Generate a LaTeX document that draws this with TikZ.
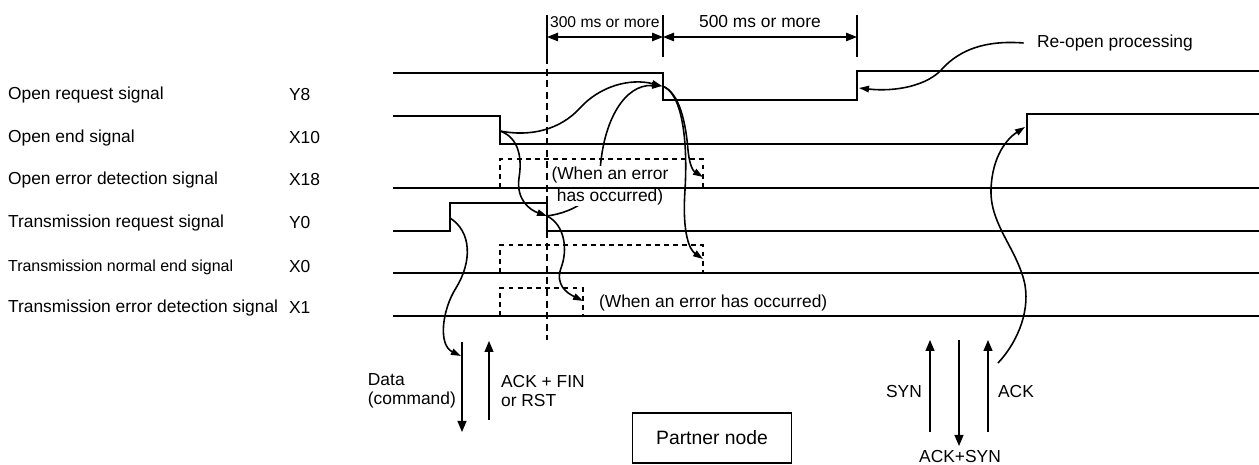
\documentclass[tikz,border=0pt]{standalone}
\usepackage{fontspec}
\setmainfont{Liberation Sans}
\usetikzlibrary{arrows.meta,positioning}

\begin{document}
\begin{tikzpicture}[
  x=0.02cm, y=-0.02cm,
  txt/.style={font=\fontsize{9.9}{11}\selectfont, inner sep=1pt},
  sig label/.style={txt, anchor=west},
  wave/.style={line width=0.7pt},
  pulse/.style={line width=0.7pt, dash pattern=on 2.8pt off 2.4pt},
  guide/.style={line width=0.7pt, dash pattern=on 4pt off 2.6pt},
  flow/.style={line width=0.9pt, -{Triangle[length=2mm,width=1.3mm]}},
  msg/.style={line width=0.7pt, -{Triangle[length=2.2mm,width=1.8mm]}},
  dim/.style={line width=0.6pt,
              {Triangle[length=2.2mm,width=1.7mm]}-{Triangle[length=2.2mm,width=1.7mm]}},
  >=Stealth
]
  \useasboundingbox (0,0) rectangle (1259,465);

  % Signal names and devices
  \foreach \txt/\dev/\y/\fs [count=\i] in {
      Open request signal/Y8/95/9.9,
      Open end signal/X10/138/9.9,
      Open error detection signal/X18/180/9.9,
      Transmission request signal/Y0/223/9.9,
      Transmission normal end signal/X0/267/9.1,
      Transmission error detection signal/X1/308/9.9} {
    \node[sig label, font=\fontsize{\fs}{11}\selectfont] (name\i) at (6,\y) {\txt};
    \node[sig label] (dev\i) at (287,\y) {\dev};
  }

  % Edge points on the waveforms
  \coordinate (y8f)  at (662,86);
  \coordinate (y8r)  at (859,88);
  \coordinate (x10f) at (500,131);
  \coordinate (x10r) at (1025,127);
  \coordinate (x18f) at (703,177);
  \coordinate (y0r)  at (450,218);
  \coordinate (y0f)  at (547,216);
  \coordinate (x0f)  at (703,259);
  \coordinate (x1f)  at (583,301);

  % Time markers
  \coordinate (t300) at (547,37);
  \coordinate (tmid) at (663,37);
  \coordinate (t500) at (857,37);
  \foreach \x in {547,663,857}
    \draw[wave] (\x,15) -- (\x,57);
  \draw[dim] (t300) -- (tmid);
  \draw[dim] (tmid) -- (t500);
  \node[txt, anchor=west, font=\fontsize{8.9}{10}\selectfont] (lbl300) at (548,22) {300 ms or more};
  \node[txt] (lbl500) at (760,22) {500 ms or more};
  \draw[guide] (547,57) -- (547,340);

  % Cause and effect
  \draw[flow] (x10f) .. controls (530,137) and (560,130) .. (580,108)
                     .. controls (600,86) and (630,78) .. (y8f);
  \draw[flow] (x10f) .. controls (520,138) and (522,160) .. (519,178)
                     .. controls (516,200) and (530,210) .. (y0f);
  \draw[flow] (y0f) .. controls (565,225) and (568,250) .. (561,268)
                    .. controls (555,285) and (567,293) .. (x1f);
  \draw[flow] (y0f) .. controls (575,212) and (597,198) .. (600,172)
                    .. controls (603,120) and (625,84) .. (y8f);
  \draw[flow] (y8f) .. controls (680,92) and (686,125) .. (688,150)
                    .. controls (690,170) and (695,172) .. (x18f);
  \draw[flow] (y8f) .. controls (682,92) and (688,140) .. (685,190)
                    .. controls (682,235) and (690,250) .. (x0f);

  \node[txt, fill=white, align=center, inner sep=0.5pt,
        font=\fontsize{9.9}{12.5}\selectfont] (err1) at (610,186) {(When an error\\has occurred)};
  \node[txt, anchor=west] (err2) at (597,303) {(When an error has occurred)};

  % Waveforms
  \draw[wave] (393,73) -- (663,73) -- (663,100) -- (857,100) -- (857,71) -- (1259,71);
  \draw[wave] (393,116) -- (500,116) -- (500,144) -- (1027,144) -- (1027,114) -- (1259,114);
  \draw[wave] (393,188) -- (1259,188);
  \draw[pulse] (500,188) -- (500,159) -- (703,159) -- (703,188);
  \draw[wave] (393,231) -- (450,231) -- (450,203) -- (547,203) -- (547,231) -- (1259,231);
  \draw[wave] (393,273) -- (1259,273);
  \draw[pulse] (500,273) -- (500,245) -- (703,245) -- (703,273);
  \draw[wave] (393,316) -- (1259,316);
  \draw[pulse] (500,316) -- (500,288) -- (583,288) -- (583,316);

  % Messages to and from the partner
  \coordinate (dataS) at (462,342);
  \coordinate (dataE) at (462,432);
  \coordinate (dataT) at (461,356);
  \coordinate (finS)  at (489,420);
  \coordinate (finE)  at (489,341);
  \draw[msg] (dataS) -- (dataE);
  \draw[msg] (finS) -- (finE);
  \draw[flow] (y0r) .. controls (472,232) and (472,262) .. (456,288)
                    .. controls (442,310) and (438,345) .. (dataT);
  \node[txt, anchor=east, align=left, font=\fontsize{9.9}{10.8}\selectfont] (data) at (458,391) {Data\\(command)};
  \node[txt, anchor=west, align=left, font=\fontsize{9.9}{10.8}\selectfont] (fin) at (499,391) {ACK + FIN\\or RST};

  \node[txt, draw, line width=0.6pt, font=\fontsize{11}{12}\selectfont,
        minimum width=3.18cm, minimum height=1cm] (partner) at (712,438) {Partner node};

  \coordinate (synS) at (930,432);
  \coordinate (synE) at (930,340);
  \coordinate (asS)  at (959,340);
  \coordinate (asE)  at (959,446);
  \coordinate (ackS) at (988,432);
  \coordinate (ackE) at (988,340);
  \coordinate (ackC) at (998,363);
  \draw[msg] (synS) -- (synE);
  \draw[msg] (asS) -- (asE);
  \draw[msg] (ackS) -- (ackE);
  \node[txt, anchor=east] (syn) at (924,392) {SYN};
  \node[txt, anchor=west] (ack) at (996,392) {ACK};
  \node[txt] (acksyn) at (960,457) {ACK+SYN};
  \draw[flow] (ackC) .. controls (1015,345) and (1030,315) .. (1025,285)
                     .. controls (1018,250) and (990,225) .. (991,190)
                     .. controls (992,155) and (1008,138) .. (x10r);

  % Re-open
  \node[txt, anchor=west] (reopen) at (1035,43) {Re-open processing};
  \draw[flow] ([xshift=-6.5pt]reopen.west) .. controls (985,40) and (960,50) .. (943,68)
                                           .. controls (928,86) and (895,92) .. (y8r);
\end{tikzpicture}
\end{document}
